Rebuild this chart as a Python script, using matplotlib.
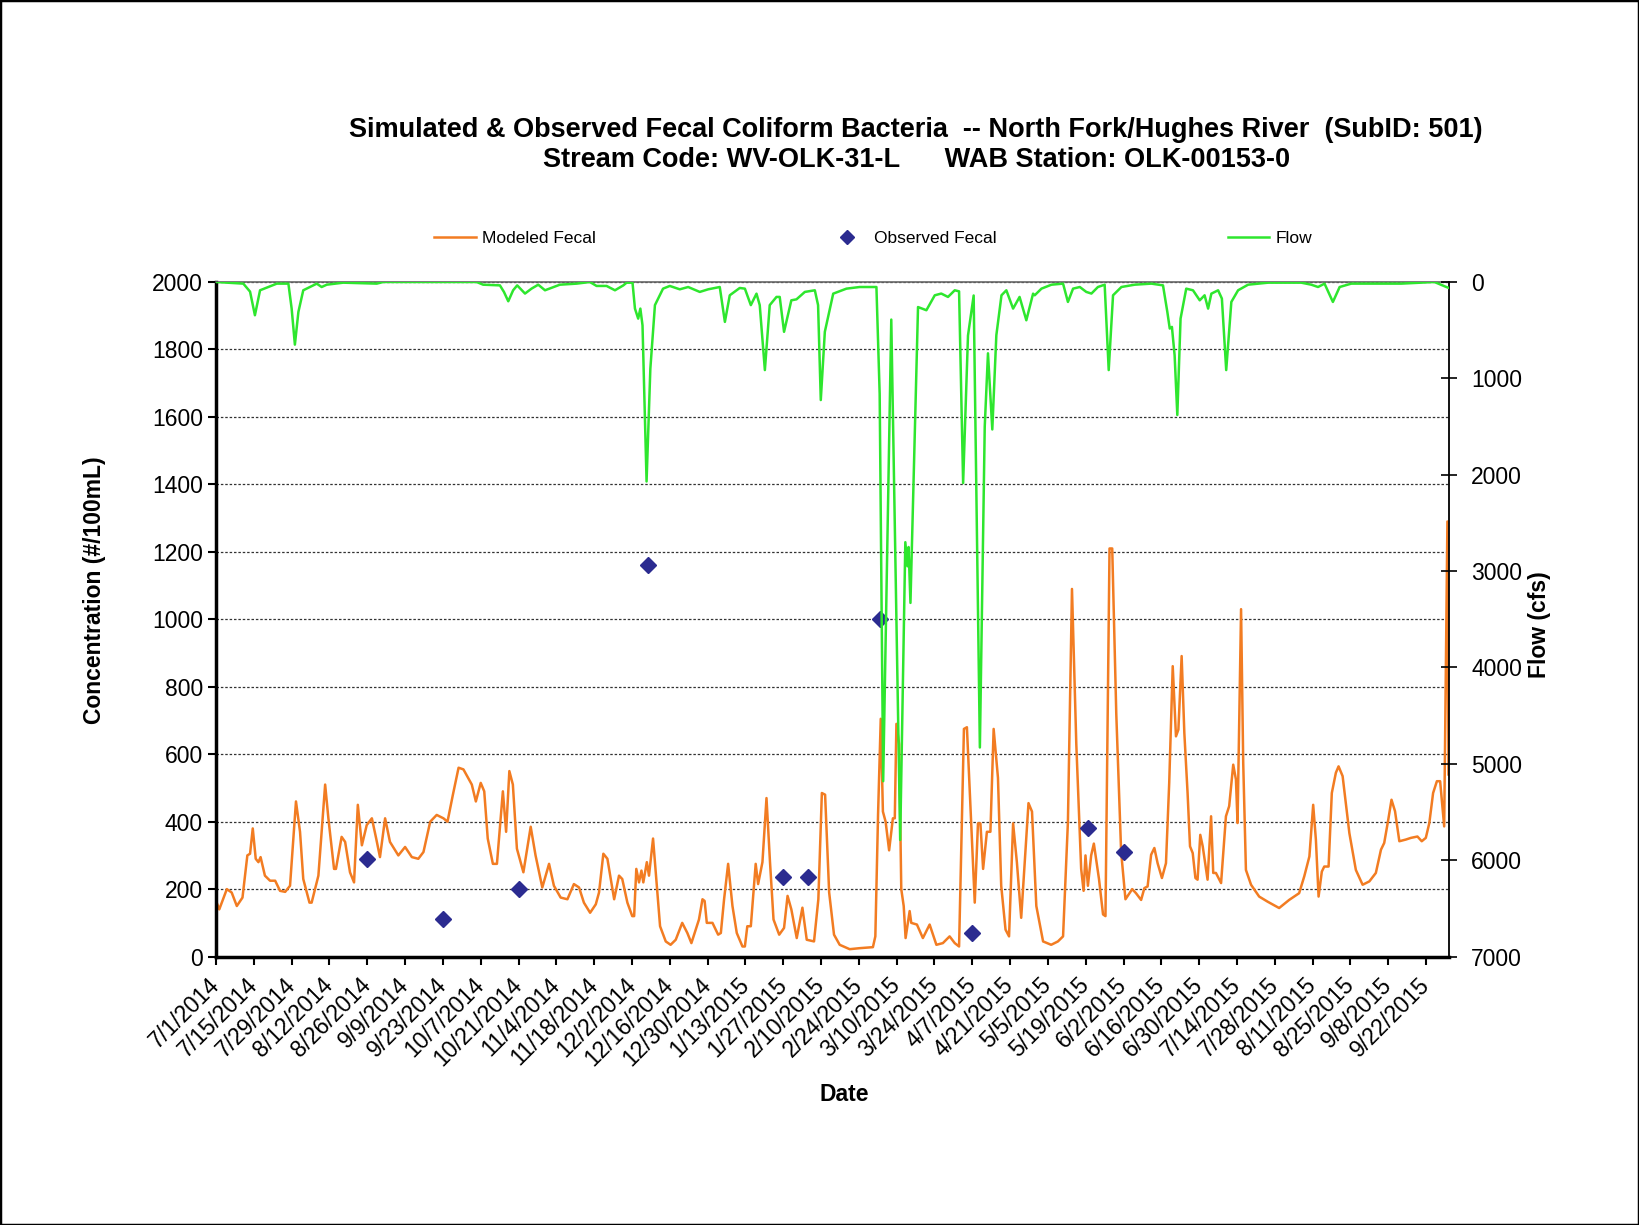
import pandas as pd
import matplotlib
matplotlib.use('Agg')
import matplotlib.pyplot as plt
from matplotlib.lines import Line2D
from matplotlib.patches import Rectangle

plt.rcParams['font.family'] = ['Liberation Sans', 'DejaVu Sans']

# data (days counted from 7/1/2014)
model_days = [0, 1.2, 4, 5.8, 7.7, 9.8, 11.6, 12.6, 13.6, 14.7, 15.7, 16.5, 18.1, 20, 21.9, 23.7, 25.6, 27.4,
              29.6, 31.1, 32.3, 34.6, 35.4, 37.9, 40.4, 41.6, 43.7, 44.4, 46.5, 47.8, 49.6, 51.1, 52.5, 54,
              55.8, 57.7, 59.3, 60.7, 62.6, 64.4, 67.5, 70, 72.5, 74.9, 76.8, 79.3, 81.7, 84.2, 85.7, 87.7,
              89.8, 91.6, 94.7, 96.2, 98, 99.3, 100.6, 102.5, 104, 106.2, 107.4, 108.6, 109.9, 111.4, 113.8,
              116.5, 118.3, 120.8, 123.3, 125.1, 127.6, 130.1, 132.5, 134.4, 136.2, 138.5, 140.6, 141.8,
              143.4, 144.9, 147.4, 149.2, 150.4, 152.3, 154.1, 154.8, 155.6, 156.6, 157.5, 158.2, 159.5,
              160.3, 161.8, 162.8, 164.4, 166.5, 168.3, 170.2, 172.6, 174.5, 176, 177.6, 178.8, 180.1,
              180.9, 181.7, 183.8, 185.9, 186.9, 188.1, 189.6, 191.2, 192.8, 194.9, 195.8, 196.7, 198,
              199.8, 200.7, 202.3, 203.8, 205.1, 206.4, 208.5, 210.3, 211.6, 213, 215, 217.1, 218.7, 221.4,
              223, 224.3, 225.5, 227, 228.8,
              230.9, 234.6, 238.3, 243.2, 244.1, 245.1, 246.1, 246.9, 247.9, 249.2, 250.6, 251.3, 251.9,
              252.9, 253.7, 254.6, 255.3, 256.8, 257.4, 259.5, 261.7, 264.2, 266.7, 269.1, 271.6, 273.5,
              275.1, 276.9, 278, 279.3, 280.9, 282.1, 283, 284, 285.4, 286.7, 287.9, 289.5, 290.7, 292.3,
              293.6, 295.1, 296.5, 298.1, 300.8, 302.1, 303.7, 306.2, 309.2, 311.7, 313.6, 315.4, 316.9,
              318.5, 320.3, 321.2, 321.9, 322.8, 324, 325, 326.9, 328.4, 329.3, 330.8, 331.8, 333.3, 335.1,
              336.7, 339.2,
              340.6, 342.5, 343.7, 344.9, 346.2, 347.4, 348.6, 350.2, 351.7, 352.9, 354.2, 355.4, 356.3,
              357.5, 358.5, 359.7, 360.6, 361.6, 362.6, 363.4, 364.4, 365.3, 367.1, 368.4, 369.2, 370.2,
              372.1, 373.9, 375.1, 376.6, 377.6, 378.2, 379.5, 380.3, 381.3, 383.2, 386.2, 389.3, 393.6,
              397.3, 401, 402.9, 404.8, 406.2, 407.2, 408.2, 409.4, 410.3, 411.9, 413.1, 414.6, 415.6,
              417.1, 419.6, 422, 424.5, 427, 429.4, 431.3, 432.5, 434, 435.2, 436.5, 438.1, 440.5, 442.4,
              444.8, 446.4, 447.9, 449.2, 450.6, 452, 453.2, 454.7, 455.9, 456.3]
model_vals = [165, 140, 200, 190, 150, 175, 300, 305, 380, 290, 280, 295, 240, 225, 225, 195, 192, 210,
              460, 370, 230, 160, 160, 240, 510, 410, 260, 260, 355, 340, 250, 220, 450, 330,
              390, 410, 350, 295, 410, 340, 300, 325, 295, 290, 310, 400, 420, 410, 400, 480,
              560, 555, 510, 460, 515, 490, 350, 275, 275, 490, 370, 550, 510, 320, 250,
              385, 300, 205, 275, 210, 175, 170, 215, 205, 160, 130, 155, 190,
              305, 290, 170, 240, 230, 160, 120, 120, 260, 220, 255, 220, 280,
              240, 350, 250, 90, 45, 35, 50, 100, 70, 40, 80, 110, 170,
              165, 100, 100, 65, 70, 170, 275, 150, 70, 30, 30, 90, 90,
              275, 215, 280, 470, 280, 110, 65, 85, 180, 140, 55, 145, 50, 45,
              170, 485, 480, 190, 65,
              35, 22, 25, 28, 60, 420, 705, 430, 400, 315, 410, 410, 690,
              630, 200, 150, 55, 135, 100, 95, 55, 95, 35, 40, 60, 40,
              30, 675, 680, 450, 160, 395, 395, 260, 370, 370, 675, 530, 210, 80,
              60, 395, 280, 115, 455, 430, 150, 45, 35, 45, 60, 400, 1090,
              630, 260, 195, 300, 210, 300, 335, 230, 125, 120, 1210, 1210, 720, 310,
              170, 200,
              188, 168, 203, 208, 302, 322, 277, 233, 277, 515, 861, 653, 673,
              891, 663, 485, 327, 307, 233, 228, 361, 327, 228, 416, 248, 248,
              218, 416, 446, 569, 525, 396, 1030, 574, 257, 213, 178, 163, 144,
              168, 188, 238, 297, 450, 347, 178, 252, 267, 267, 485, 545, 564,
              535, 366, 257, 213, 223, 248, 317, 337, 406, 465, 431, 342, 347, 352,
              356, 342, 352, 396, 485, 520, 520, 386, 1290, 540]

flow_days = [0, 10.1, 12.6, 14.4, 16.3, 22.5, 26.8, 28, 29.2, 30.5, 32.3, 37.3, 39.1, 41, 47.1, 59.5, 61.9,
             84.1, 96.5, 98.9, 105.1, 106.6, 108.2, 110, 111.5, 114.4, 116.8, 119.3, 121.8, 127.3, 133.5,
             138.4, 140.9, 144.6, 147.7, 150.8,
             152, 154.2, 155.1, 156.3, 157.1, 157.9, 159.4, 160.8, 162.5, 165.5, 168, 171.7, 174.8, 179.1,
             182.2, 186.5, 188.4, 190.2, 193.9, 195.8, 198, 200.1, 201.3, 203.2, 205, 207.5, 208.7, 210.3,
             213, 214.9, 218, 221.7, 222.9, 223.9, 225.4, 228.5, 233.4, 238.3, 244.5,
             245.7, 247, 250, 253.3, 255.2, 256, 256.4, 257.1, 259.9, 263, 266.1, 268.5, 271, 273.5, 275.1,
             276.6, 278.4, 280.5, 282.8, 284.6, 285.8, 287.4, 288.9, 290.8, 292.6, 295.1, 297.5, 300, 302.5,
             303.1, 305.6, 309.3, 313.6, 315.4, 317.3, 319.8, 322.2, 324.1, 326.5, 329, 330.5, 332.1,
             335.2, 340.1, 346.3, 350.6, 352.2, 353.1, 353.9, 354.9, 355.9, 357.1, 359.2, 361.7, 364.2,
             366, 367.3, 368.5, 371, 372.4, 374, 375.9, 378.4, 382.1, 389.5, 401.8, 405.5, 408, 410.4,
             413.5, 416, 420.3, 438.8, 451.1, 455.5, 456.3]
flow_vals = [0, 17, 100, 345, 86, 17, 17, 276, 650, 310, 86, 17, 52, 28, 7, 17, 0,
             0, 0, 28, 35, 103, 200, 86, 35, 120, 69, 28, 86, 28, 17,
             0, 41, 41, 86, 35,
             7, 7, 276, 380, 276, 450, 2070, 900, 240, 69, 41, 76, 52, 103,
             76, 52, 414, 138, 62, 69, 240, 121, 240, 914, 240, 155, 155, 517,
             190, 180, 103, 86, 240, 1225, 517, 121, 69, 52, 52,
             1160, 5180, 390, 5790, 2700, 2950, 2750, 3330, 260, 293, 138, 120, 155, 86, 97,
             2086, 556, 140, 4830, 1500, 740, 1530, 552, 138, 86, 276, 155, 397, 121,
             138, 69, 28, 17, 207, 69, 52, 103, 120, 52, 28, 914, 138,
             52, 28, 17, 35, 310, 483, 466, 760, 1380, 380, 69, 86, 190,
             138, 276, 121, 86, 172, 914, 207, 86, 28, 7, 7, 28, 52, 17,
             207, 52, 17, 17, 0, 52, 60]

obs_dates = ['2014-08-26', '2014-09-23', '2014-10-21', '2014-12-08', '2015-01-27', '2015-02-05',
             '2015-03-04', '2015-04-07', '2015-05-20', '2015-06-02']
obs_vals = [290, 110, 200, 1160, 235, 235, 1000, 70, 380, 310]

start = pd.Timestamp('2014-07-01')
model_x = start + pd.to_timedelta(model_days, unit='D')
flow_x = start + pd.to_timedelta(flow_days, unit='D')
obs_x = pd.to_datetime(obs_dates)
tick_dates = pd.date_range('2014-07-01', '2015-09-22', freq='14D')
tick_labels = [f'{d.month}/{d.day}/{d.year}' for d in tick_dates]

orange = '#F27C22'
green = '#2EE62E'
navy = '#2B2B90'

fig = plt.figure(figsize=(16.39, 12.25), dpi=100)
ax = fig.add_axes([0.1318, 0.2191, 0.7523, 0.5507])

for v in range(200, 2001, 200):
    ax.axhline(v, color='#333333', lw=0.9, ls=(0, (2, 1.5)), zorder=0)

ax.plot(model_x, model_vals, color=orange, lw=1.8, zorder=2)
ax.plot(obs_x, obs_vals, ls='none', marker='D', ms=8.5, color=navy, zorder=3)

ax.set_ylim(0, 2000)
ax.set_yticks(range(0, 2001, 200))
ax.set_xlim(start, start + pd.Timedelta(days=456.5))
ax.set_xticks(tick_dates)
ax.set_xticklabels(tick_labels, rotation=45, ha='right', va='center', rotation_mode='anchor')
ax.tick_params(axis='both', labelsize=16.5, length=6, width=1.5, colors='black')
ax.tick_params(axis='x', pad=12)
ax.spines['left'].set_linewidth(2.5)
ax.spines['bottom'].set_linewidth(2.5)
ax.spines['top'].set_color('#666666')
ax.spines['top'].set_linewidth(1.2)
ax.spines['right'].set_visible(False)

ax2 = ax.twinx()
ax2.plot(flow_x, flow_vals, color=green, lw=1.8, zorder=4)
ax2.set_ylim(7000, 0)
ax2.set_yticks(range(0, 7001, 1000))
ax2.tick_params(axis='y', labelsize=16.5, direction='inout', length=12, width=1.2, pad=10)
ax2.spines['right'].set_linewidth(1.3)
for s in ['left', 'bottom', 'top']:
    ax2.spines[s].set_visible(False)

fig.text(0.5587, 0.894, 'Simulated & Observed Fecal Coliform Bacteria  -- North Fork/Hughes River  (SubID: 501)',
         ha='center', va='center', fontsize=19.5, fontweight='bold')
fig.text(0.559, 0.869, 'Stream Code: WV-OLK-31-L      WAB Station: OLK-00153-0',
         ha='center', va='center', fontsize=19.5, fontweight='bold')

fig.text(0.0574, 0.518, 'Concentration (#/100mL)', rotation=90, ha='center', va='center',
         fontsize=16.5, fontweight='bold')
fig.text(0.939, 0.49, 'Flow (cfs)', rotation=90, ha='center', va='center',
         fontsize=16.5, fontweight='bold')
fig.text(0.5153, 0.1065, 'Date', ha='center', va='center', fontsize=16.5, fontweight='bold')

handles = [Line2D([], [], color=orange, lw=1.8),
           Line2D([], [], ls='none', marker='D', ms=7, color=navy),
           Line2D([], [], color=green, lw=1.8)]
fig.legend(handles, ['Modeled Fecal', 'Observed Fecal', 'Flow'], loc='center left',
           bbox_to_anchor=(434 / 1639, 0.8057), ncol=3, frameon=False, fontsize=12.5,
           handlelength=2.4, handletextpad=0.35, columnspacing=13.3, borderpad=0, borderaxespad=0)

fig.patches.append(Rectangle((0, 0), 1, 1, transform=fig.transFigure, fill=False, lw=2.5, ec='black'))

fig.savefig('out.png', dpi=100, facecolor='white')
